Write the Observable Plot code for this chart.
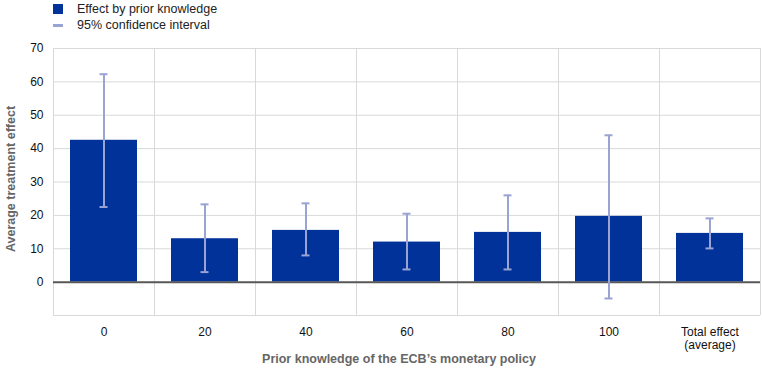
<!DOCTYPE html>
<html><head><meta charset="utf-8">
<script src="https://cdn.jsdelivr.net/npm/d3@7"></script>
<script src="https://cdn.jsdelivr.net/npm/@observablehq/plot@0.6"></script>
<style>
body{margin:0;background:#fff;font-family:"Liberation Sans",Arial,sans-serif;}
#legend{height:35px;position:relative;font-size:12.5px;color:#222;}
.li{position:absolute;left:53px;display:flex;align-items:center;}
.sw{width:10px;height:10px;background:#003299;margin-right:14px;}
.ln{width:10px;height:3px;background:#99a3d4;margin-right:14px;}
</style></head>
<body>
<div id="legend">
<div class="li" style="top:2px"><div class="sw"></div><span>Effect by prior knowledge</span></div>
<div class="li" style="top:18px"><div class="ln"></div><span>95% confidence interval</span></div>
</div>
<div id="chart"></div>
<script>
const categories = ["0","20","40","60","80","100","Total effect\n(average)"];
const effects = [42.5, 13.0, 15.5, 12.0, 14.9, 19.7, 14.6];
const ciLow = [22.5, 3.0, 8.0, 3.8, 3.8, -4.9, 10.1];
const ciHigh = [62.3, 23.3, 23.6, 20.5, 26.0, 44.0, 19.1];
const yTicks = [-10, 0, 10, 20, 30, 40, 50, 60, 70];
const yLabels = [0, 10, 20, 30, 40, 50, 60, 70];

const data = categories.map((c, i) => ({cat: c, v: effects[i], lo: ciLow[i], hi: ciHigh[i]}));
const W = 762, ML = 53, MR = 2;
const bw = (W - ML - MR) / categories.length;

const chart = Plot.plot({
  width: W, height: 338,
  marginLeft: ML, marginRight: MR, marginTop: 13, marginBottom: 58,
  style: {fontFamily: '"Liberation Sans", Arial, sans-serif', fontSize: "12px", color: "#222"},
  x: {domain: categories, padding: 0, label: null},
  y: {domain: [-10, 70], label: null},
  marks: [
    Plot.ruleY(yTicks, {stroke: "#d9d9d9", strokeWidth: 1}),
    Plot.ruleX(categories, {x: d => d, dx: -bw / 2, stroke: "#d9d9d9", strokeWidth: 1}),
    Plot.ruleX([categories[categories.length - 1]], {x: d => d, dx: bw / 2, stroke: "#d9d9d9", strokeWidth: 1}),
    Plot.barY(data, {x: "cat", y: "v", fill: "#003299", insetLeft: 17, insetRight: 17}),
    Plot.ruleY([0], {stroke: "#595959", strokeWidth: 2}),
    Plot.ruleX(data, {x: "cat", y1: "lo", y2: "hi", stroke: "#99a3d4", strokeWidth: 2}),
    Plot.tickY(data, {x: "cat", y: "lo", stroke: "#99a3d4", strokeWidth: 2, insetLeft: bw / 2 - 4, insetRight: bw / 2 - 4}),
    Plot.tickY(data, {x: "cat", y: "hi", stroke: "#99a3d4", strokeWidth: 2, insetLeft: bw / 2 - 4, insetRight: bw / 2 - 4}),
    Plot.axisY(yLabels, {tickSize: 0, tickPadding: 10, fontSize: 12, fill: "#111", label: null}),
    Plot.axisX({tickSize: 0, tickPadding: 12, fontSize: 12, fill: "#111", label: null, lineHeight: 1.05}),
    Plot.text(["Average treatment effect"], {frameAnchor: "left", textAnchor: "middle", rotate: -90, dx: -43, dy: -3, fontWeight: "bold", fill: "#666", fontSize: 12.5}),
    Plot.text(["Prior knowledge of the ECB\u2019s monetary policy"], {frameAnchor: "bottom", dy: 47, dx: -8, fontWeight: "bold", fill: "#666", fontSize: 12.5})
  ]
});
document.getElementById("chart").appendChild(chart);
</script>
</body></html>
